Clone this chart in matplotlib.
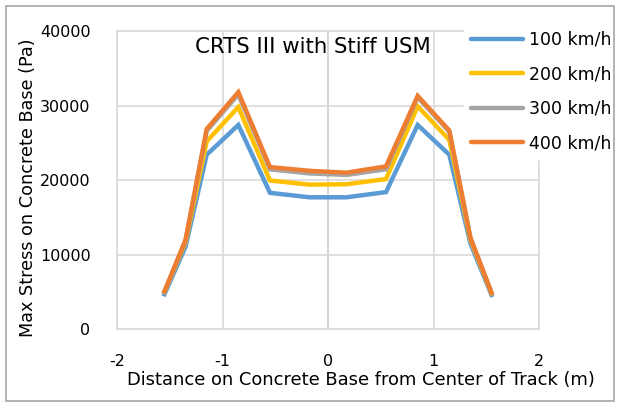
import matplotlib
matplotlib.use("Agg")
import matplotlib.pyplot as plt
from matplotlib.patches import Rectangle

# Distance from the centre of the track (m)
distance = [-1.55, -1.35, -1.15, -0.85, -0.55, -0.175, 0.175, 0.55, 0.85, 1.15, 1.35, 1.55]

# Max stress on the concrete base (Pa) for each train speed
stress_100 = [4700, 11100, 23400, 27400, 18300, 17700, 17700, 18400, 27400, 23400, 11500, 4600]
stress_200 = [5000, 11700, 25200, 29800, 19950, 19400, 19450, 20150, 29900, 25400, 12000, 4800]
stress_300 = [5000, 11900, 26600, 31500, 21450, 20900, 20700, 21450, 31100, 26500, 12200, 4850]
stress_400 = [5100, 12000, 26850, 31800, 21750, 21250, 21000, 21850, 31300, 26650, 12300, 4900]

speed_labels = ["100 km/h", "200 km/h", "300 km/h", "400 km/h"]
x_ticks = [-2, -1, 0, 1, 2]
y_ticks = [0, 10000, 20000, 30000, 40000]

# Office style colours
colors = ["#5B9BD5", "#FFC000", "#A5A5A5", "#ED7D31"]


def plot_stress():
    fig = plt.figure(figsize=(6.18, 4.03), dpi=100)
    ax = fig.add_axes([117 / 618, 1 - 329.3 / 403, 422 / 618, 298.3 / 403])

    all_series = [stress_100, stress_200, stress_300, stress_400]
    for series, label, color in zip(all_series, speed_labels, colors):
        ax.plot(distance, series, color=color, linewidth=3.2, label=label,
                solid_joinstyle="miter", zorder=3)

    ax.set_xlim(-2, 2)
    ax.set_ylim(0, 40000)
    ax.set_xticks(x_ticks)
    ax.set_yticks(y_ticks)
    ax.set_xticklabels([str(t) for t in x_ticks])
    ax.set_yticklabels([str(t) for t in y_ticks])
    ax.tick_params(length=0, labelsize=11.5, pad=19)
    ax.tick_params(axis="x", pad=18)

    # Light grey grid and frame, like Excel
    ax.grid(True, color="#D9D9D9", linewidth=1.2, zorder=0)
    for side in ["left", "right", "top", "bottom"]:
        ax.spines[side].set_color("#D9D9D9")
        ax.spines[side].set_linewidth(1.2)
    ax.axvline(0, color="#C8C8C8", linewidth=1.2, zorder=1)

    # Title sits inside the plot area
    fig.text(313 / 618, 1 - 47 / 403, "CRTS III with Stiff USM", fontsize=15.3,
             ha="center", va="center")
    fig.text(361 / 618, 1 - 380 / 403, "Distance on Concrete Base from Center of Track (m)",
             fontsize=12.9, ha="center", va="center")
    fig.text(28 / 618, 1 - 188 / 403, "Max Stress on Concrete Base (Pa)",
             fontsize=12.7, ha="center", va="center", rotation=90)

    # Legend with a white box hiding the grid behind it
    leg = ax.legend(loc="upper left", bbox_to_anchor=(464 / 618, 1 - 24 / 403),
                    bbox_transform=fig.transFigure, fontsize=12.5, frameon=True,
                    handlelength=3.0, handletextpad=0.35, labelspacing=0.95,
                    borderpad=0.4, borderaxespad=0)
    leg.get_frame().set_facecolor("white")
    leg.get_frame().set_edgecolor("white")
    leg.get_frame().set_alpha(1)
    leg.set_zorder(5)
    for line in leg.get_lines():
        line.set_linewidth(3.2)
        line.set_solid_capstyle("round")

    # Chart border
    fig.patches.append(Rectangle((5.5 / 618, 2.5 / 403), 608 / 618, 395 / 403,
                                 transform=fig.transFigure, fill=False,
                                 edgecolor="#A6A6A6", linewidth=1.2))

    fig.savefig("out.png", dpi=100)


def main():
    plot_stress()


main()
